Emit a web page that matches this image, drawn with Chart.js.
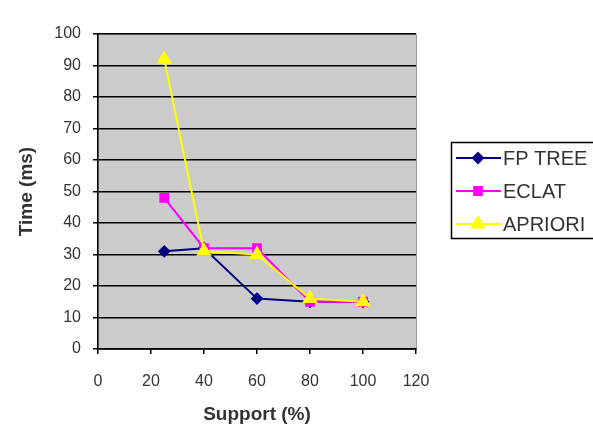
<!DOCTYPE html>
<html>
<head>
<meta charset="utf-8">
<script src="https://cdn.jsdelivr.net/npm/chart.js@4.4.1/dist/chart.umd.min.js"></script>
<style>
  html, body { margin: 0; padding: 0; background: #fff; }
  #wrap { position: relative; width: 593px; height: 434px; }
</style>
</head>
<body>
<div id="wrap"><canvas id="chart" width="593" height="434"></canvas></div>
<script>
/* ── Data ── */
const supportPct = [25, 40, 60, 80, 100];
const fpTree     = [31, 32, 16, 15, 15];
const eclat      = [48, 32, 32, 15, 15];
const apriori    = [92, 31, 30, 16, 15];
const seriesNames = ['FP TREE', 'ECLAT', 'APRIORI'];
const xTicks = [0, 20, 40, 60, 80, 100, 120];
const yTicks = [0, 10, 20, 30, 40, 50, 60, 70, 80, 90, 100];

const FONT = 'Liberation Sans, Arial, sans-serif';
const toPts = ys => supportPct.map((x, i) => ({ x, y: ys[i] }));

function series(label, data, color, style, r, order) {
  return {
    label, data: toPts(data), showLine: true, order,
    borderColor: color, backgroundColor: color, borderWidth: 2,
    pointStyle: style, pointRadius: r, pointHoverRadius: r,
    pointBorderColor: color, pointBackgroundColor: color, tension: 0
  };
}

/* ── Plot area background ── */
const plotBg = {
  id: 'plotBg',
  beforeDraw(chart) {
    const { ctx, chartArea: a } = chart;
    ctx.save();
    ctx.fillStyle = '#cbcbcb';
    ctx.fillRect(a.left, a.top, a.right - a.left, a.bottom - a.top);
    ctx.strokeStyle = '#9a9a9a'; ctx.lineWidth = 1;
    ctx.strokeRect(a.left + 0.5, a.top + 0.5, a.right - a.left, a.bottom - a.top);
    ctx.restore();
  }
};

/* ── Excel-style legend box ── */
const boxLegend = {
  id: 'boxLegend',
  afterDraw(chart) {
    const ctx = chart.ctx;
    const bx = 451, by = 142, bw = 150, bh = 96;
    ctx.save();
    ctx.fillStyle = '#fff';
    ctx.fillRect(bx, by, bw, bh);
    ctx.strokeStyle = '#000'; ctx.lineWidth = 1.5;
    ctx.strokeRect(bx + 0.5, by + 0.5, bw, bh);
    ctx.font = '20px ' + FONT;
    ctx.textBaseline = 'middle';
    chart.data.datasets.forEach((ds, i) => {
      const y = 158 + i * 33;
      ctx.strokeStyle = ds.borderColor; ctx.lineWidth = 2;
      ctx.beginPath(); ctx.moveTo(456, y); ctx.lineTo(501, y); ctx.stroke();
      ctx.fillStyle = ds.backgroundColor;
      Chart.helpers.drawPoint(ctx, { pointStyle: ds.pointStyle, radius: ds.pointRadius, rotation: 0, borderWidth: 1 }, 478, y);
      ctx.fillStyle = '#333';
      ctx.fillText(ds.label, 503, y + 1);
    });
    ctx.restore();
  }
};

new Chart(document.getElementById('chart'), {
  type: 'scatter',
  data: {
    datasets: [
      series(seriesNames[0], fpTree, '#000080', 'rectRot', 5, 2),
      series(seriesNames[1], eclat, '#ff00ff', 'rect', 5.5, 1),
      series(seriesNames[2], apriori, '#ffff00', 'triangle', 7, 0)
    ]
  },
  options: {
    responsive: false, animation: false,
    layout: { padding: { left: 0, right: 177, top: 34, bottom: 0 } },
    plugins: { legend: { display: false }, tooltip: { enabled: false } },
    scales: {
      x: {
        type: 'linear', min: 0, max: 120,
        afterBuildTicks: s => { s.ticks = xTicks.map(v => ({ value: v })); },
        afterFit: s => { s.height = 85; },
        grid: { drawOnChartArea: false, drawTicks: true, tickLength: 5, color: '#000', lineWidth: 1.5 },
        border: { color: '#000', width: 1.5 },
        ticks: { color: '#333', font: { family: FONT, size: 16 }, padding: 18, maxRotation: 0 },
        title: { display: true, text: 'Support (%)', color: '#333', font: { family: FONT, size: 19, weight: 'bold' }, padding: { top: 0, bottom: 8 } }
      },
      y: {
        type: 'linear', min: 0, max: 100,
        afterBuildTicks: s => { s.ticks = yTicks.map(v => ({ value: v })); },
        afterFit: s => { s.width = 98; },
        grid: { drawOnChartArea: true, drawTicks: true, tickLength: 5, color: '#000', lineWidth: 1.5 },
        border: { color: '#000', width: 1.5 },
        ticks: { color: '#333', font: { family: FONT, size: 16 }, padding: 12 },
        title: { display: true, text: 'Time (ms)', color: '#333', font: { family: FONT, size: 19, weight: 'bold' }, padding: { top: 15, bottom: 0 } }
      }
    }
  },
  plugins: [plotBg, boxLegend]
});
</script>
</body>
</html>
